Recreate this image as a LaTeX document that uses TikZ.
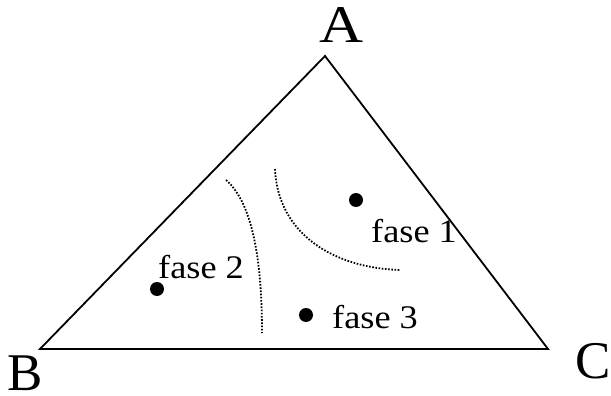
\documentclass[tikz,border=0pt]{standalone}
\usepackage{fontspec}
\setmainfont{Liberation Serif}
\begin{document}
\begin{tikzpicture}[x=1pt,y=-1pt,
  edge/.style={line width=1.8pt, line join=miter},
  bound/.style={line width=1.8pt, dash pattern=on 1.6pt off 1.6pt},
  corner/.style={inner sep=0pt, font=\fontsize{53}{53}\selectfont},
  phase/.style={inner sep=0pt, anchor=base west, font=\fontsize{33}{33}\selectfont},
  pt/.style={circle, fill=black, inner sep=0pt, minimum size=14pt}]
\useasboundingbox (0,0) rectangle (611,396);
\coordinate (a) at (325,56);
\coordinate (b) at (40,349);
\coordinate (c) at (548,349);
\draw[edge] (a) -- (b) -- (c) -- cycle;
\node[corner, anchor=base] (la) at (342,43) {\scalebox{1.15}[1]{A}};
\node[corner, anchor=base] (lb) at (25,390) {B};
\node[corner, anchor=base] (lc) at (593,378) {C};
\node[pt] (p1) at (356,200) {};
\node[pt] (p2) at (157,289) {};
\node[pt] (p3) at (306,315) {};
\node[phase] (f1) at (371,242) {\scalebox{1.1}[1]{fase 1}};
\node[phase] (f2) at (158,278) {\scalebox{1.1}[1]{fase 2}};
\node[phase] (f3) at (332,328) {\scalebox{1.1}[1]{fase 3}};
\coordinate (s1) at (226,180);
\coordinate (e1) at (262,333);
\coordinate (s2) at (275,169);
\coordinate (e2) at (400,270);
\draw[bound] (s1) .. controls (255,205) and (262,270) .. (e1);
\draw[bound] (s2) .. controls (278,235) and (335,268) .. (e2);
\end{tikzpicture}
\end{document}
